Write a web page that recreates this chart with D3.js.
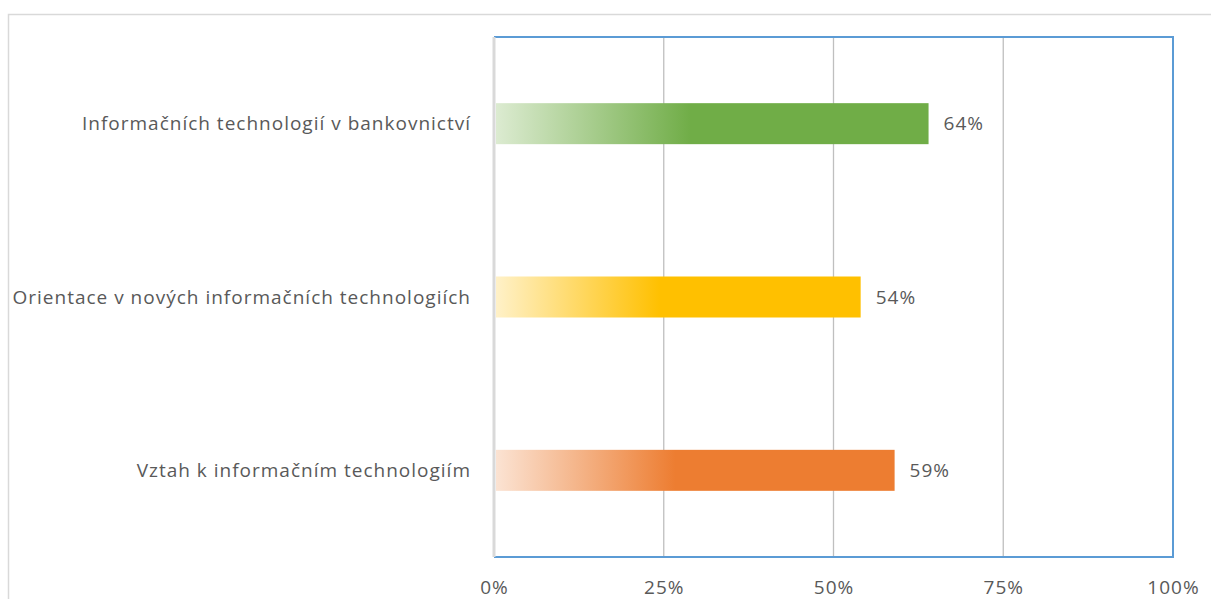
<!DOCTYPE html>
<meta charset="utf-8">
<style>
body { margin: 0; background: #fff; }
svg { display: block; font-family: "Open Sans", sans-serif; }
.tick text, .lbl, .val { fill: #595959; letter-spacing: 1px; }
</style>
<svg width="1211" height="599"></svg>
<script src="https://d3js.org/d3.v7.min.js"></script>
<script>

var categories = ["Informačních technologií v bankovnictví",
                  "Orientace v nových informačních technologiích",
                  "Vztah k informačním technologiím"];
var values = [0.64, 0.54, 0.59];
var barColors = ["#70AD47", "#FFC000", "#ED7D31"];
var lightColors = ["#dcebd1", "#fff1c8", "#fbe3d3"];
var tickValues = [0, 0.25, 0.5, 0.75, 1];

var svg = d3.select("svg");

// outer chart frame
svg.append("path")
    .attr("d", "M8.5,599V14.5H1211")
    .attr("fill", "none")
    .attr("stroke", "#d9d9d9")
    .attr("stroke-width", 1.5);

var plotLeft = 494, plotRight = 1173, plotTop = 37, plotBottom = 557;

var x = d3.scaleLinear().domain([0, 1]).range([plotLeft, plotRight]);
var y = d3.scaleBand().domain(categories).range([plotTop, plotBottom]);

var defs = svg.append("defs");
categories.forEach(function(c, i) {
  var g = defs.append("linearGradient").attr("id", "grad" + i)
      .attr("x1", 0).attr("x2", 1).attr("y1", 0).attr("y2", 0);
  g.append("stop").attr("offset", 0).attr("stop-color", lightColors[i]);
  g.append("stop").attr("offset", 0.45).attr("stop-color", barColors[i]);
  g.append("stop").attr("offset", 1).attr("stop-color", barColors[i]);
});

// gridlines
svg.append("g").selectAll("line")
    .data(tickValues.slice(1, 4))
  .enter().append("line")
    .attr("x1", function(d) { return x(d); })
    .attr("x2", function(d) { return x(d); })
    .attr("y1", plotTop).attr("y2", plotBottom)
    .attr("stroke", "#bfbfbf").attr("stroke-width", 1.3);

// plot border (blue)
svg.append("path")
    .attr("d", "M" + plotLeft + "," + plotTop + "H" + plotRight + "V" + plotBottom + "H" + plotLeft)
    .attr("fill", "none")
    .attr("stroke", "#5b9bd5")
    .attr("stroke-width", 2);

// bars
var barH = 41;
svg.append("g").selectAll("rect")
    .data(categories)
  .enter().append("rect")
    .attr("x", x(0) + 2)
    .attr("y", function(d) { return y(d) + y.bandwidth() / 2 - barH / 2; })
    .attr("width", function(d, i) { return x(values[i]) - x(0) - 2; })
    .attr("height", barH)
    .attr("fill", function(d, i) { return "url(#grad" + i + ")"; });

// left axis line (gray)
svg.append("line")
    .attr("x1", plotLeft).attr("x2", plotLeft)
    .attr("y1", plotTop).attr("y2", plotBottom)
    .attr("stroke", "#d9d9d9").attr("stroke-width", 3);

// category labels
svg.append("g").selectAll("text")
    .data(categories)
  .enter().append("text")
    .attr("class", "lbl")
    .attr("x", 471)
    .attr("y", function(d) { return y(d) + y.bandwidth() / 2; })
    .attr("dy", "0.35em")
    .attr("text-anchor", "end")
    .attr("font-size", 19)
    .text(function(d) { return d; });

// value labels
svg.append("g").selectAll("text")
    .data(categories)
  .enter().append("text")
    .attr("class", "val")
    .attr("x", function(d, i) { return x(values[i]) + 15; })
    .attr("y", function(d) { return y(d) + y.bandwidth() / 2; })
    .attr("dy", "0.35em")
    .attr("font-size", 19)
    .text(function(d, i) { return Math.round(values[i] * 100) + "%"; });

// x axis
var xAxis = svg.append("g")
    .attr("transform", "translate(0," + plotBottom + ")")
    .call(d3.axisBottom(x).tickValues(tickValues).tickSize(0).tickPadding(24)
      .tickFormat(function(d) { return Math.round(d * 100) + "%"; }));
xAxis.select(".domain").remove();
xAxis.selectAll("text").attr("font-size", 19).attr("font-family", "Open Sans, sans-serif");

</script>
